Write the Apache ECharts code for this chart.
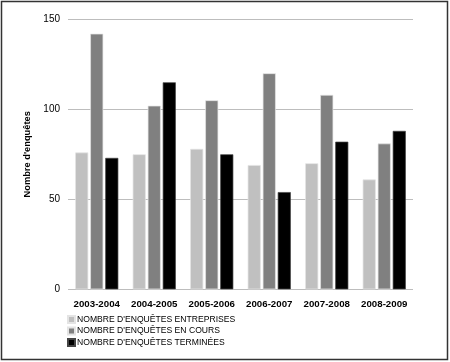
<!DOCTYPE html>
<html><head><meta charset="utf-8">
<script src="https://cdn.jsdelivr.net/npm/echarts@6/dist/echarts.min.js"></script>
<style>html,body{margin:0;padding:0;background:#fff}#c{width:450px;height:362px}</style>
</head><body><div id="c"></div>
<script>
const categories = ['2003-2004','2004-2005','2005-2006','2006-2007','2007-2008','2008-2009'];
const seriesNames = ["NOMBRE D'ENQUÊTES ENTREPRISES","NOMBRE D'ENQUÊTES EN COURS","NOMBRE D'ENQUÊTES TERMINÉES"];
const entreprises = [76, 75, 78, 69, 70, 61];
const enCours = [142, 102, 105, 120, 108, 81];
const terminees = [73, 115, 75, 54, 82, 88];
const yTicks = [0, 50, 100, 150];
const colors = ['#c0c0c0', '#808080', '#000000'];
const chart = echarts.init(document.getElementById('c'));
const font = 'Liberation Sans, Arial, sans-serif';
const mk = (name, data, i) => ({
  name, type: 'bar', data, barGap: '15%', barCategoryGap: '25%',
  itemStyle: { color: colors[i], borderColor: i === 2 ? '#444' : '#e4e4e4', borderWidth: 0.7 }
});
chart.setOption({
  animation: false,
  graphic: [{ type: 'rect', shape: { x: 1.5, y: 1.5, width: 446, height: 358 }, style: { fill: 'none', stroke: '#333', lineWidth: 1.5 } }],
  grid: { left: 68, right: 37, top: 19.3, bottom: 72.7 },
  legend: {
    orient: 'vertical', left: 62, top: 309, itemGap: 0.5, itemWidth: 7, itemHeight: 7, icon: 'rect',
    textStyle: { fontFamily: font, fontSize: 8.6, color: '#000', lineHeight: 11, padding: [0, 0, 0, -3] },
    data: seriesNames
  },
  xAxis: {
    type: 'category', data: categories,
    axisLine: { show: false }, axisTick: { show: false },
    axisLabel: { interval: 0, fontFamily: font, fontSize: 9.7, fontWeight: 'bold', color: '#000', margin: 10 }
  },
  yAxis: {
    type: 'value', min: 0, max: 150, interval: 50,
    name: "Nombre d'enquêtes", nameLocation: 'middle', nameGap: 33, nameRotate: 90,
    nameTextStyle: { fontFamily: font, fontSize: 9.3, fontWeight: 'bold', color: '#000' },
    axisLine: { show: false }, axisTick: { show: false },
    axisLabel: { fontFamily: font, fontSize: 10, color: '#000', margin: 8,
      formatter: v => yTicks.includes(v) ? String(v) : '' },
    splitLine: { lineStyle: { color: '#bdbdbd', width: 1 } }
  },
  series: [mk(seriesNames[0], entreprises, 0), mk(seriesNames[1], enCours, 1), mk(seriesNames[2], terminees, 2)]
});
</script></body></html>
